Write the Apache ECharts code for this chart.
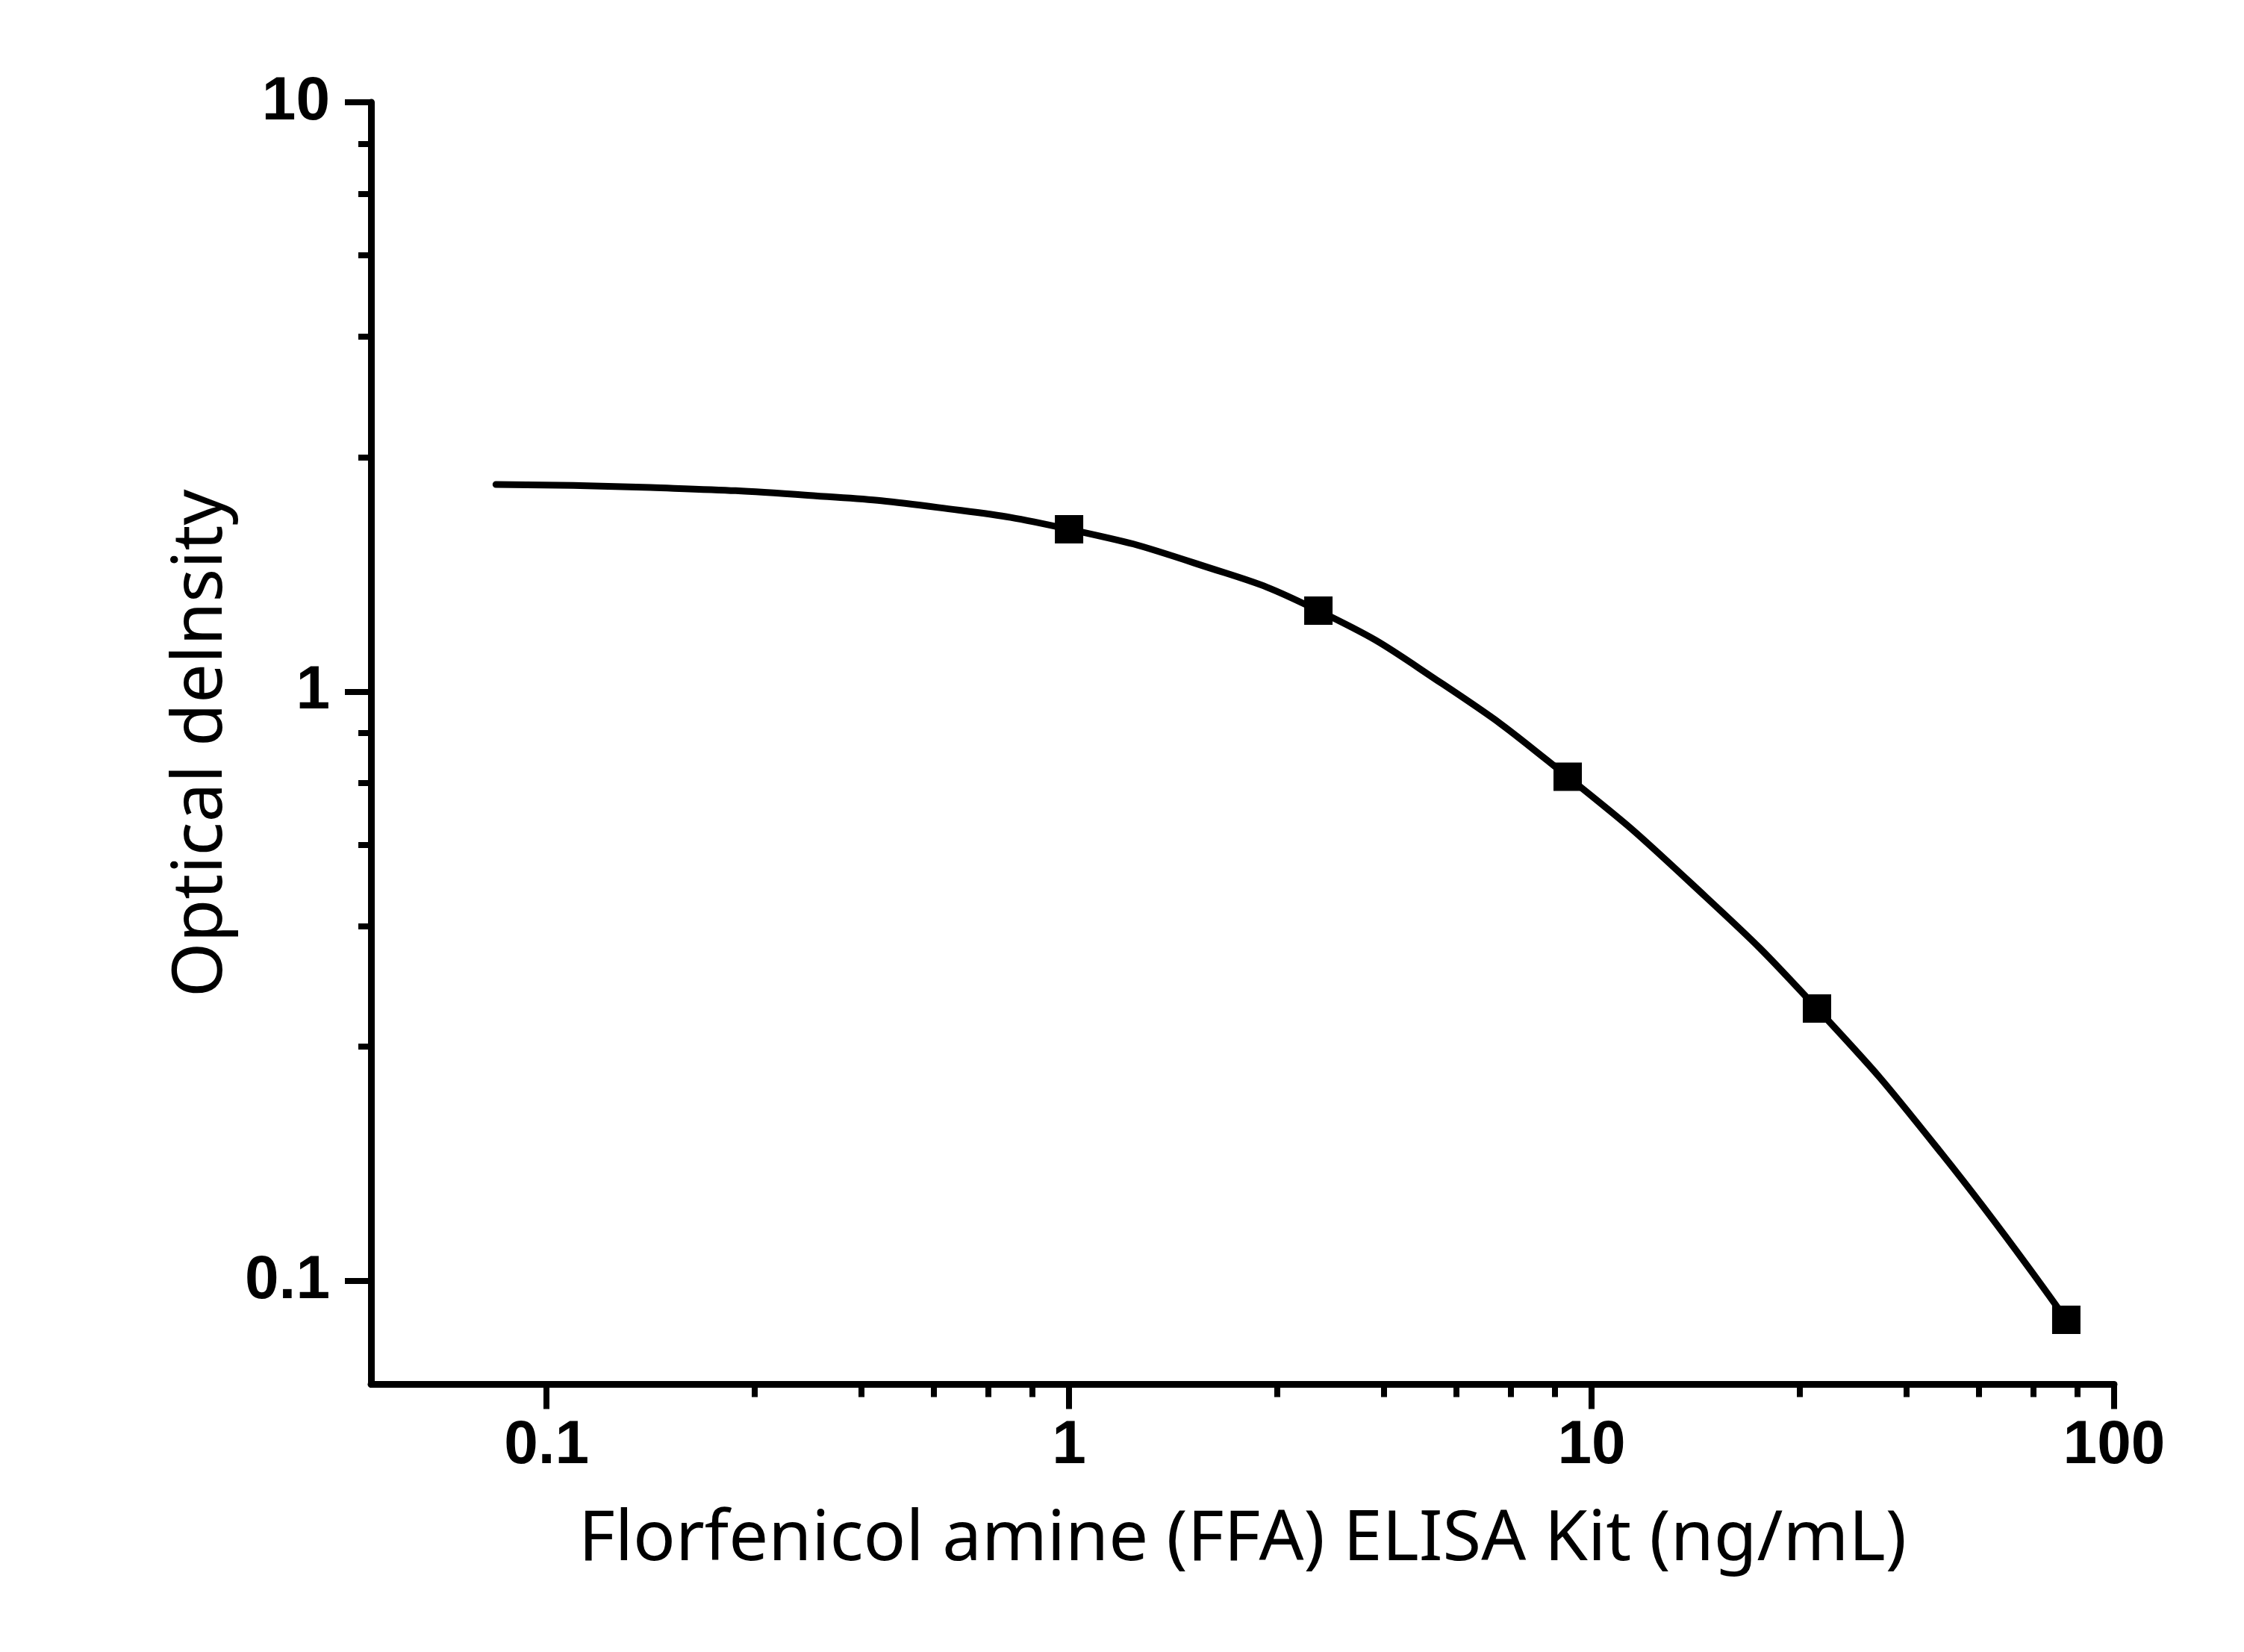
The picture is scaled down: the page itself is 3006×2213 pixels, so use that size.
<!DOCTYPE html>
<html>
<head>
<meta charset="utf-8">
<script src="https://cdn.jsdelivr.net/npm/echarts@6/dist/echarts.min.js"></script>
<style>
html, body { margin: 0; padding: 0; background: #fff; }
#chart { width: 3006px; height: 2213px; }
</style>
</head>
<body>
<div id="chart"></div>
<script>
// measured standards
var concX = [1, 3, 9, 27, 81];
var odY = [1.886, 1.372, 0.717, 0.290, 0.0859];

// fitted curve
var curveX = [0.08, 0.158, 0.316, 0.562, 1, 1.74, 3, 5.19, 9, 15.5, 27, 46.8, 81];
var curveY = [2.246, 2.220, 2.153, 2.053, 1.886, 1.652, 1.372, 1.030, 0.717, 0.473, 0.290, 0.1644, 0.0859];

// tick values
var xMajor = [0.1, 1, 10, 100];
var xMinor = [0.25, 0.4, 0.55, 0.7, 0.85, 2.5, 4, 5.5, 7, 8.5, 25, 40, 55, 70, 85];
var yMajor = [0.1, 1, 10];
var yMinor = [0.25, 0.4, 0.55, 0.7, 0.85, 2.5, 4, 5.5, 7, 8.5];

var xMin = 0.04614, xMax = 100;
var yMin = 0.06676, yMax = 10;

var labelFont = { color: '#000', fontFamily: 'Liberation Sans', fontWeight: 'bold', fontSize: 82 };
var nameFont = { color: '#000', fontFamily: 'Noto Sans', fontSize: 94 };

function fmt(v) {
    return String(+v.toPrecision(3));
}

var myChart = echarts.init(document.getElementById('chart'));
var option = {
    animation: false,
    backgroundColor: '#fff',
    grid: { left: 497, right: 174, top: 137, bottom: 358.5 },
    xAxis: [{
        type: 'log',
        logBase: 10,
        min: xMin,
        max: xMax,
        name: 'Florfenicol amine (FFA) ELISA Kit (ng/mL)',
        nameLocation: 'middle',
        nameGap: 162,
        nameTextStyle: nameFont,
        axisLine: { onZero: false, lineStyle: { color: '#000', width: 9 } },
        axisTick: { customValues: xMajor, length: 33, lineStyle: { color: '#000', width: 8 } },
        axisLabel: Object.assign({ customValues: xMajor, margin: 42, formatter: fmt }, labelFont),
        splitLine: { show: false }
    }, {
        type: 'log',
        logBase: 10,
        min: xMin,
        max: xMax,
        position: 'bottom',
        axisLine: { show: false, onZero: false },
        axisTick: { customValues: xMinor, length: 17, lineStyle: { color: '#000', width: 8 } },
        axisLabel: { show: false },
        splitLine: { show: false }
    }],
    yAxis: [{
        type: 'log',
        logBase: 10,
        min: yMin,
        max: yMax,
        name: 'Optical delnsity',
        nameLocation: 'middle',
        nameGap: 180,
        nameTextStyle: nameFont,
        axisLine: { onZero: false, lineStyle: { color: '#000', width: 9 } },
        axisTick: { customValues: yMajor, length: 35, lineStyle: { color: '#000', width: 8 } },
        axisLabel: Object.assign({ customValues: yMajor, margin: 55, padding: [0, 0, 20, 0], formatter: fmt }, labelFont),
        splitLine: { show: false }
    }, {
        type: 'log',
        logBase: 10,
        min: yMin,
        max: yMax,
        position: 'left',
        axisLine: { show: false, onZero: false },
        axisTick: { customValues: yMinor, length: 17, lineStyle: { color: '#000', width: 8 } },
        axisLabel: { show: false },
        splitLine: { show: false }
    }],
    series: [{
        type: 'line',
        smooth: true,
        showSymbol: false,
        data: curveX.map(function (x, i) { return [x, curveY[i]]; }),
        lineStyle: { color: '#000', width: 9, cap: 'round' },
        z: 2
    }, {
        type: 'scatter',
        symbol: 'rect',
        symbolSize: 38,
        data: concX.map(function (x, i) { return [x, odY[i]]; }),
        itemStyle: { color: '#000', opacity: 1 },
        z: 3
    }]
};
myChart.setOption(option);
</script>
</body>
</html>
